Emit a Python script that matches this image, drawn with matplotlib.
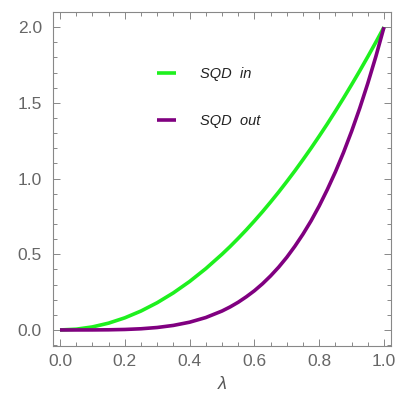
import matplotlib
matplotlib.use("Agg")
import matplotlib.pyplot as plt
from matplotlib.ticker import MultipleLocator

lam = [0.00, 0.05, 0.10, 0.15, 0.20, 0.25, 0.30, 0.35, 0.40, 0.45, 0.50,
       0.525, 0.55, 0.575, 0.60, 0.625, 0.65, 0.675, 0.70, 0.725, 0.75,
       0.775, 0.80, 0.825, 0.85, 0.875, 0.90, 0.925, 0.95, 0.975, 1.00]
sqd_in = [0.0, 0.005, 0.02, 0.045, 0.08, 0.125, 0.18, 0.245, 0.32, 0.405, 0.5,
          0.551, 0.605, 0.661, 0.72, 0.781, 0.845, 0.911, 0.98, 1.051, 1.125,
          1.201, 1.28, 1.361, 1.445, 1.531, 1.62, 1.711, 1.805, 1.901, 2.0]
sqd_out = [0.0, 0.0, 0.0002, 0.001, 0.0032, 0.0078, 0.0162, 0.030, 0.0512, 0.082, 0.125,
           0.152, 0.183, 0.219, 0.259, 0.305, 0.357, 0.415, 0.480, 0.553, 0.633,
           0.721, 0.819, 0.927, 1.044, 1.172, 1.312, 1.464, 1.629, 1.807, 2.0]
labels = ["SQD  in", "SQD  out"]
colors = ["#1EF01E", "#800080"]

plt.rcParams['font.family'] = ['Liberation Sans', 'DejaVu Sans']
fig = plt.figure(figsize=(3.96, 4.05), dpi=100)
ax = fig.add_axes([53/396, 1-346/405, 338/396, 334/405])

for y, c, l in zip([sqd_in, sqd_out], colors, labels):
    ax.plot(lam, y, color=c, lw=2.6, label=l, solid_capstyle='butt')

ax.set_xlim(-0.0216, 1.0216)
ax.set_ylim(-0.106, 2.1)
ax.xaxis.set_major_locator(MultipleLocator(0.2))
ax.xaxis.set_minor_locator(MultipleLocator(0.05))
ax.yaxis.set_major_locator(MultipleLocator(0.5))
ax.yaxis.set_minor_locator(MultipleLocator(0.1))
ax.xaxis.set_major_formatter(matplotlib.ticker.FuncFormatter(lambda v, p: f"{v:.1f}"))
ax.yaxis.set_major_formatter(matplotlib.ticker.FuncFormatter(lambda v, p: f"{v:.1f}"))

gray = "#888888"
for s in ax.spines.values():
    s.set_color(gray)
    s.set_linewidth(0.8)
ax.tick_params(which='both', direction='in', top=True, right=True, color=gray,
               labelcolor="#666666", labelsize=12.5, width=0.7)
ax.tick_params(which='major', length=5)
ax.tick_params(which='minor', length=3)
ax.tick_params(axis='x', pad=6)
ax.tick_params(axis='y', pad=8)

ax.set_xlabel("λ", fontsize=13, style='italic', color="#555555", labelpad=5)

leg = ax.legend(loc='upper left', bbox_to_anchor=(0.27, 0.875), frameon=False,
                handlelength=1.3, handletextpad=1.6, labelspacing=2.25,
                prop={'style': 'italic', 'size': 10.5})
for t in leg.get_texts():
    t.set_color("#222222")

fig.savefig("out.png", dpi=100)
